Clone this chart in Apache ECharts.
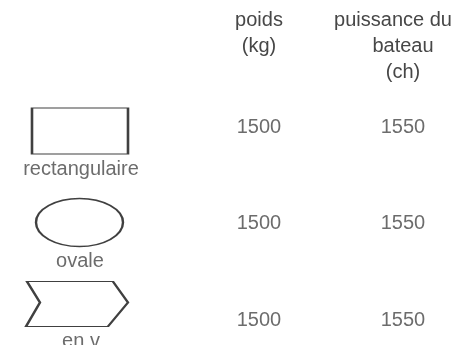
<!DOCTYPE html>
<html><head><meta charset="utf-8">
<script src="https://cdn.jsdelivr.net/npm/echarts@6/dist/echarts.min.js"></script>
<style>html,body{margin:0;padding:0;background:#fff}#c{width:465px;height:345px}</style>
</head><body><div id="c"></div>
<script>
// data
const columns = ['forme', 'poids', 'puissance'];
const headers = ['', ['poids', '(kg)'], ['puissance du', 'bateau', '(ch)']];
const formes = ['rectangulaire', 'ovale', 'en v'];
const poids = [1500, 1500, 1500];
const puissance = [1550, 1550, 1550];

// styles
const TXT = '#474747';
const FONT = 'Liberation Sans';
const FS = 20;
const STROKE = '#404040';
const chevron = 'path://M1 0 L87 0 L102 21 L82 45 L0 45 L14 21 Z';
const shapeSymbols = [
  {symbol: 'rect', size: [96, 46], offset: [-35, 4]},
  {symbol: 'circle', size: [87, 48], offset: [-35.5, -1]},
  {symbol: chevron, size: [102, 45], offset: [-38, -16]}
];
const nameOffsets = [[-34, 42], [-35, 38], [-34, 21]];

function headerText(v) {
  const h = headers[Math.round(v)];
  if (!h) return '';
  if (h.length === 3) return '{p|' + h[0] + '}\n{n|' + h[1] + '}\n{n|' + h[2] + '}';
  return h.map(s => '{n|' + s + '}').join('\n');
}

const chart = echarts.init(document.getElementById('c'), null, {renderer: 'canvas'});
chart.setOption({
  animation: false,
  grid: {left: 0, right: 0, top: 0, bottom: 0, outerBoundsMode: 'none', containLabel: false},
  xAxis: {
    type: 'value', position: 'top', min: -0.7986, max: 2.4306,
    axisLine: {show: false}, axisTick: {show: false}, splitLine: {show: false},
    axisLabel: {
      customValues: [1, 2], showMinLabel: true, showMaxLabel: true,
      margin: -7, verticalAlign: 'top', align: 'center',
      formatter: headerText,
      color: TXT, fontFamily: FONT, fontSize: FS, lineHeight: 26,
      rich: {
        n: {color: TXT, fontFamily: FONT, fontSize: FS, lineHeight: 26},
        p: {color: TXT, fontFamily: FONT, fontSize: FS, lineHeight: 26, padding: [0, 20, 0, 0]}
      }
    }
  },
  yAxis: {
    type: 'value', inverse: true, min: -1.316, max: 2.259, show: false, splitLine: {show: false}
  },
  series: [
    {
      type: 'scatter', silent: true,
      data: formes.map((f, i) => ({
        value: [0, i],
        symbol: shapeSymbols[i].symbol,
        symbolSize: shapeSymbols[i].size,
        symbolOffset: shapeSymbols[i].offset
      })),
      itemStyle: {color: 'rgba(0,0,0,0)', borderColor: STROKE, borderWidth: 1.8, opacity: 1}
    },
    {
      type: 'scatter', silent: true, symbolSize: 1,
      itemStyle: {color: 'rgba(0,0,0,0)'},
      data: formes.map((f, i) => ({
        value: [0, i, f],
        label: {offset: nameOffsets[i]}
      })),
      label: {show: true, position: 'inside', formatter: p => p.value[2],
        color: TXT, fontFamily: FONT, fontSize: FS}
    },
    {
      type: 'scatter', silent: true, symbolSize: 1,
      itemStyle: {color: 'rgba(0,0,0,0)'},
      data: poids.map((v, i) => [1, i, v]),
      label: {show: true, position: 'inside', formatter: p => String(p.value[2]),
        color: TXT, fontFamily: FONT, fontSize: FS}
    },
    {
      type: 'scatter', silent: true, symbolSize: 1,
      itemStyle: {color: 'rgba(0,0,0,0)'},
      data: puissance.map((v, i) => [2, i, v]),
      label: {show: true, position: 'inside', formatter: p => String(p.value[2]),
        color: TXT, fontFamily: FONT, fontSize: FS}
    }
  ]
});
</script></body></html>
